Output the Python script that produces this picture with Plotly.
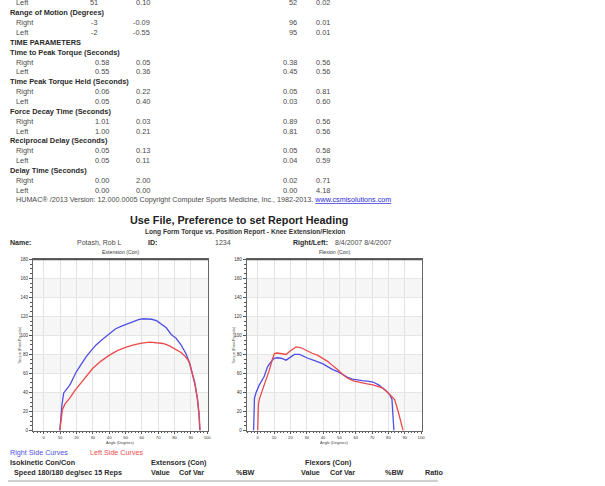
import plotly.graph_objects as go

W, H = 605, 486

# ---- torque vs. angle curves (angle in degrees, torque in foot-pounds) ----
ext_right_angle = [9.8, 10.5, 11.2, 12.2, 14, 16, 20, 23, 26, 29, 32, 36, 40, 44, 48, 51, 55, 58, 61,
                   63, 66, 69, 72, 75, 78, 81, 84, 87, 89, 91, 92.5, 94, 95, 95.5]
ext_right_torque = [0, 15, 28, 39.5, 44, 48, 62, 70, 77.7, 84, 90, 96, 102, 107, 110, 112, 114.5, 116.5, 117.5,
                    117.5, 117, 115.5, 112, 108, 101, 97, 90, 81, 72, 60, 50, 34, 17, 0]
ext_left_angle = [9.8, 10.5, 11.4, 13, 15.9, 19, 21.9, 26, 30, 35, 40, 45, 50, 55, 60, 65, 70, 73, 77,
                  81, 84, 86, 88, 89.5, 91, 92.5, 94, 95.1, 95.7]
ext_left_torque = [0, 12, 22, 28, 34, 42, 48, 57, 65.5, 73, 79, 84, 87.5, 90, 92, 93, 92.5, 91.5, 89,
                   85, 82, 79, 75, 70, 60, 48, 34, 17, 0]

flx_right_angle = [-2.5, -2.2, -2, -1, 1, 4, 6, 8, 10, 12, 14.3, 17.4, 20, 22.5, 25.6, 28, 30.7, 34, 36.8,
                   40, 43, 46, 49, 52, 55, 58, 61, 64, 67, 70.5, 74, 76.7, 79, 80.8, 82.2, 82.8, 83.4]
flx_right_torque = [0, 18, 34, 40, 48, 57, 67, 72, 76, 76.5, 76, 74, 77, 80, 80, 78, 76, 74, 72.5,
                    70, 67, 64, 62, 59, 56, 54, 53, 52.5, 52, 51, 48, 44.7, 41, 37.8, 32.6, 15, 0]
flx_left_angle = [0, 0.2, 0.4, 1, 2, 3.5, 5.1, 7.2, 9, 10.2, 12, 14.3, 17.4, 20, 23.5, 26.6, 30.7, 33, 36.8,
                  40, 43, 46, 49, 52, 55, 59, 63.4, 67, 70.5, 74, 76.7, 79, 81.5, 83.8, 85.9, 87.5, 89]
flx_left_torque = [0, 14, 27, 33, 38, 45, 52, 64, 75, 81, 81.5, 81, 80, 84, 88, 87, 83, 81.5, 79,
                   76, 72.5, 68, 64, 59, 55, 52, 50, 49, 48, 46, 44.7, 41, 37, 32.6, 20.5, 10, 0]

# ---- report table ----
prev_left_row = ["51", "0.10", "52", "0.02"]
rom_right = ["-3", "-0.09", "96", "0.01"]
rom_left = ["-2", "-0.55", "95", "0.01"]
time_sections = ["Time to Peak Torque (Seconds)", "Time Peak Torque Held (Seconds)",
                 "Force Decay Time (Seconds)", "Reciprocal Delay (Seconds)", "Delay Time (Seconds)"]
time_right = [["0.58", "0.05", "0.38", "0.56"], ["0.06", "0.22", "0.05", "0.81"],
              ["1.01", "0.03", "0.89", "0.56"], ["0.05", "0.13", "0.05", "0.58"],
              ["0.00", "2.00", "0.02", "0.71"]]
time_left = [["0.55", "0.36", "0.45", "0.56"], ["0.05", "0.40", "0.03", "0.60"],
             ["1.00", "0.21", "0.81", "0.56"], ["0.05", "0.11", "0.04", "0.59"],
             ["0.00", "0.00", "0.00", "4.18"]]

y_ticks = [0, 20, 40, 60, 80, 100, 120, 140, 160, 180]
x_ticks = [0, 10, 20, 30, 40, 50, 60, 70, 80, 90, 100]

FONT = "Arial, Liberation Sans, sans-serif"
TXT = "#4a4a4a"
BOLD = "#2a2a2a"
BLUE = "#4f4fe6"
RED = "#ec4a4a"
ROW = 9.95  # line pitch of the table


def px(x):
    return x / W


def py(y):
    return 1 - y / H


annotations = []


def text(x, y, s, size=7.4, color=TXT, anchor="left", bold=False):
    if bold:
        s = "<b>" + s + "</b>"
    annotations.append(dict(x=px(x), y=py(y), xref="paper", yref="paper", text=s, showarrow=False,
                            xanchor=anchor, yanchor="middle",
                            font=dict(family=FONT, size=size, color=color)))


col_right = [112, 153, 300, 334]


def value_row(y, label, vals, first_col=None):
    text(14, y, label)
    for i, v in enumerate(vals):
        xr = col_right[i] if (i != 0 or first_col is None) else first_col
        text(xr, y, v, anchor="right")


# last row of the previous table section, running off the top of the page
value_row(0, "Left", prev_left_row, first_col=101)
text(8, 11, "Range of Motion (Degrees)", bold=True, color=BOLD)
value_row(11 + ROW, "Right", rom_right, first_col=101)
value_row(11 + 2 * ROW, "Left", rom_left, first_col=101)
text(8, 11 + 3 * ROW, "TIME PARAMETERS", bold=True, color=BOLD)
y = 11 + 4 * ROW
for title, r, l in zip(time_sections, time_right, time_left):
    text(8, y, title, bold=True, color=BOLD)
    value_row(y + ROW, "Right", r)
    value_row(y + 2 * ROW, "Left", l)
    y += 3 * ROW
text(14, y, "HUMAC® /2013 Version: 12.000.0005 Copyright Computer Sports Medicine, Inc., 1982-2013. "
     "<span style='color:#2a2ad8'><u>www.csmisolutions.com</u></span>", size=7.2)

# ---- report heading ----
text(240, 220, "Use File, Preference to set Report Heading", size=10.8, bold=True, color="#222",
     anchor="center")
text(246, 232.5, "Long Form Torque vs. Position Report - Knee Extension/Flexion", size=6.6, bold=True,
     color="#333", anchor="center")
text(8, 243, "Name:", bold=True, color=BOLD, size=7)
text(75, 243, "Potash, Rob L", size=7)
text(147, 243, "ID:", bold=True, color=BOLD, size=7)
text(214, 243, "1234", size=7)
text(292, 243, "Right/Left:", bold=True, color=BOLD, size=7)
text(335, 243, "8/4/2007 8/4/2007", size=7)

# ---- chart panels ----
panels = [
    dict(x0=33, x1=209, title="Extension (Con)", xa="xaxis", ya="yaxis", ref=("x", "y"),
         right=(ext_right_angle, ext_right_torque), left=(ext_left_angle, ext_left_torque)),
    dict(x0=248, x1=424, title="Flexion (Con)", xa="xaxis2", ya="yaxis2", ref=("x2", "y2"),
         right=(flx_right_angle, flx_right_torque), left=(flx_left_angle, flx_left_torque)),
]
PY0, PY1 = 260, 433

fig = go.Figure()
shapes = []
layout_axes = {}
for p in panels:
    xr, yr = p["ref"]
    fig.add_trace(go.Scatter(x=p["right"][0], y=p["right"][1], mode="lines", xaxis=xr, yaxis=yr,
                             line=dict(color=BLUE, width=1.3), showlegend=False))
    fig.add_trace(go.Scatter(x=p["left"][0], y=p["left"][1], mode="lines", xaxis=xr, yaxis=yr,
                             line=dict(color=RED, width=1.3), showlegend=False))
    # alternating light bands behind the grid
    for b0 in (20, 60, 100, 140):
        shapes.append(dict(type="rect", xref=xr + " domain", yref=yr, x0=0, x1=1, y0=b0, y1=b0 + 20,
                           fillcolor="#f6f6f6", line=dict(width=0), layer="below"))
    layout_axes[p["xa"]] = dict(
        domain=[px(p["x0"]), px(p["x1"])], range=[-6.7, 100.5], anchor=yr,
        tickvals=x_ticks, ticks="outside", ticklen=2, tickwidth=1, tickcolor="#555",
        tickfont=dict(family=FONT, size=4.2, color="#333"),
        showgrid=True, gridcolor="#e2e2e2", gridwidth=1, zeroline=False,
        showline=True, mirror=True, linecolor="#666", linewidth=1,
        minor=dict(dtick=2, tick0=0, ticks="outside", ticklen=1.5, tickcolor="#555", showgrid=False),
    )
    layout_axes[p["ya"]] = dict(
        domain=[py(PY1), py(PY0)], range=[0, 180], anchor=xr,
        tickvals=y_ticks, ticks="outside", ticklen=3, tickwidth=1, tickcolor="#555",
        tickfont=dict(family=FONT, size=4.5, color="#333"),
        showgrid=True, gridcolor="#e6e6e6", gridwidth=1, zeroline=False,
        showline=True, mirror=True, linecolor="#666", linewidth=1,
        minor=dict(dtick=5, ticks="outside", ticklen=2, tickcolor="#555", showgrid=False),
    )
    cx = (p["x0"] + p["x1"]) / 2
    text(cx, 253, p["title"], size=5.2, color="#333", anchor="center")
    text(cx, 446, "Angle (Degrees)", size=3.8, color="#444", anchor="center")
    annotations.append(dict(x=px(p["x0"] - 13), y=py((PY0 + PY1) / 2), xref="paper", yref="paper",
                            text="Torque (Foot-Pounds)", textangle=-90, showarrow=False,
                            xanchor="center", yanchor="middle",
                            font=dict(family=FONT, size=3.8, color="#444")))
    # darker top edge of the frame
    shapes.append(dict(type="line", xref="paper", yref="paper", x0=px(p["x0"]), x1=px(p["x1"]),
                       y0=py(PY0), y1=py(PY0), line=dict(color="#555", width=1.6)))

# ---- legend text and summary header ----
text(8, 455, "Right Side Curves", color=BLUE, size=7.2)
text(88, 455, "Left Side Curves", color=RED, size=7.2)
text(8, 465, "Isokinetic Con/Con", bold=True, color=BOLD, size=7.2)
text(150, 465, "Extensors (Con)", bold=True, color=BOLD, size=7.2)
text(305, 465, "Flexors (Con)", bold=True, color=BOLD, size=7.2)
text(12, 475, "Speed 180/180 deg/sec 15 Reps", bold=True, color=BOLD, size=7.2)
for x, s in [(150, "Value"), (178, "Cof Var"), (235, "%BW"), (300, "Value"), (330, "Cof Var"),
             (385, "%BW"), (425, "Ratio")]:
    text(x, 475, s, bold=True, color=BOLD, size=7.2)
shapes.append(dict(type="line", xref="paper", yref="paper", x0=px(8), x1=px(440), y0=py(484), y1=py(484),
                   line=dict(color="#d0d0d0", width=2)))

fig.update_layout(
    width=W, height=H, margin=dict(l=0, r=0, t=0, b=0),
    paper_bgcolor="white", plot_bgcolor="white",
    annotations=annotations, shapes=shapes, showlegend=False,
    **layout_axes,
)
fig.write_html("out.html")
